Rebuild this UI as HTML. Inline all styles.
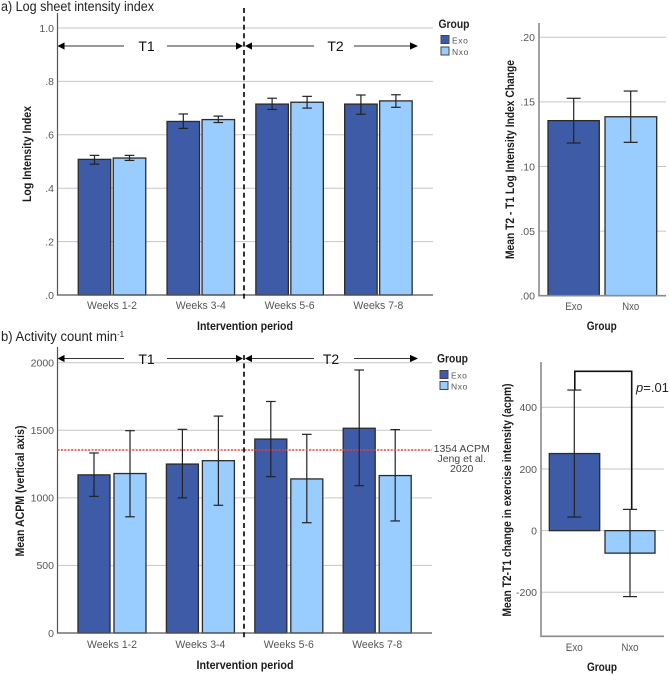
<!DOCTYPE html>
<html lang="en">
<head>
<meta charset="utf-8">
<title>Log sheet intensity index and activity count by group</title>
<style>
html,body{margin:0;padding:0;background:#fff;}
svg{display:block;font-family:"Liberation Sans",sans-serif;}
</style>
</head>
<body>
<svg id="figure" width="669" height="675" viewBox="0 0 669 675" xmlns="http://www.w3.org/2000/svg"></svg>
<script>
var periods = ['Weeks 1-2', 'Weeks 3-4', 'Weeks 5-6', 'Weeks 7-8'];
var groups = ['Exo', 'Nxo'];

var logTicks = [0, 0.2, 0.4, 0.6, 0.8, 1.0];
var logTickLabels = ['.0', '.2', '.4', '.6', '.8', '1.0'];
var logExo = [0.508, 0.650, 0.715, 0.715];
var logNxo = [0.513, 0.657, 0.722, 0.727];
var logExoLow = [0.490, 0.624, 0.695, 0.677];
var logExoHigh = [0.523, 0.678, 0.737, 0.749];
var logNxoLow = [0.504, 0.646, 0.700, 0.703];
var logNxoHigh = [0.523, 0.670, 0.744, 0.750];

var logChangeTicks = [0, 0.05, 0.10, 0.15, 0.20];
var logChangeTickLabels = ['.00', '.05', '.10', '.15', '.20'];
var logChangeMeans = [0.1355, 0.1385];
var logChangeLow = [0.1182, 0.1187];
var logChangeHigh = [0.1528, 0.1584];

var acpmTicks = [0, 500, 1000, 1500, 2000];
var acpmTickLabels = ['0', '500', '1000', '1500', '2000'];
var acpmExo = [1170, 1250, 1435, 1515];
var acpmNxo = [1180, 1275, 1140, 1165];
var acpmExoLow = [1011, 1000, 1157, 1090];
var acpmExoHigh = [1332, 1507, 1713, 1946];
var acpmNxoLow = [860, 945, 816, 829];
var acpmNxoHigh = [1497, 1605, 1470, 1505];
var referenceAcpm = [1354];

var acpmChangeTicks = [-200, 0, 200, 400];
var acpmChangeTickLabels = ['-200', '0', '200', '400'];
var acpmChangeMeans = [250, -73];
var acpmChangeLow = [44, -214];
var acpmChangeHigh = [456, 69];

var NS = 'http://www.w3.org/2000/svg';
var root = document.getElementById('figure');
var DARK = '#3e5ba8';
var LIGHT = '#99ccff';

function shape(parent, tag, props, text) {
  var el = document.createElementNS(NS, tag);
  for (var k in props) { el.setAttribute(k, props[k]); }
  if (text !== undefined) { el.textContent = text; }
  parent.appendChild(el);
  return el;
}
function linear(domain0, px0, domain1, px1) {
  return function (v) { return px0 + (v - domain0) * (px1 - px0) / (domain1 - domain0); };
}
function layer(parent, name) {
  var g = shape(parent, 'g', {});
  
  
  return g;
}
function drawGrid(parent, ticks, labels, y, x0, x1, labelRight, sw) {
  var grid = layer(parent, 'gridlines');
  var tickText = layer(parent, 'y-axis-ticks');
  ticks.forEach(function (t, i) {
    var line = shape(grid, 'line', {x1: x0, x2: x1, y1: y(t), y2: y(t), stroke: '#c6c6c6', 'stroke-width': sw});
    
    
    var label = shape(tickText, 'text', {x: labelRight, y: y(t) + 3.8, 'text-anchor': 'end', 'font-size': 10.5, fill: '#555'}, labels[i]);
    
    
  });
}
function drawBar(parent, x0, x1, y0, yv, fill, name) {
  var r = shape(parent, 'rect', {x: x0, y: Math.min(y0, yv), width: x1 - x0, height: Math.abs(y0 - yv), fill: fill, stroke: '#2b2b2b', 'stroke-width': 1.3});
  
  
}
function drawError(parent, cx, yLow, yHigh, half, name, sw) {
  var g = layer(parent, name);
  shape(g, 'line', {x1: cx, x2: cx, y1: yLow, y2: yHigh, stroke: '#222', 'stroke-width': sw});
  shape(g, 'line', {x1: cx - half, x2: cx + half, y1: yLow, y2: yLow, stroke: '#222', 'stroke-width': sw});
  shape(g, 'line', {x1: cx - half, x2: cx + half, y1: yHigh, y2: yHigh, stroke: '#222', 'stroke-width': sw});
}
function drawAxes(parent, xAxis, yTop, yBottom, xRight, color, sw) {
  var a = shape(parent, 'path', {d: 'M' + xAxis + ' ' + yTop + 'V' + yBottom + 'H' + xRight, fill: 'none', stroke: color, 'stroke-width': sw});
  
  
}
function drawLegend(parent, titleX, titleY, swX, sw1Y, sw2Y) {
  var g = layer(parent, 'legend');
  var t = shape(g, 'text', {x: titleX, y: titleY, 'font-size': 11.5, 'font-weight': 'bold', fill: '#222', textLength: 31, lengthAdjust: 'spacingAndGlyphs'}, 'Group');
  
  
  [sw1Y, sw2Y].forEach(function (sy, i) {
    var s = shape(g, 'rect', {x: swX, y: sy, width: 8, height: 8, fill: i ? LIGHT : DARK, stroke: '#444', 'stroke-width': 1});
    
    
    var l = shape(g, 'text', {x: swX + 11, y: sy + 8, 'font-size': 8.5, 'letter-spacing': 0.6, fill: '#555'}, groups[i]);
    
    
  });
}
function drawPhaseArrow(parent, y, textY, t2Center) {
  var g = layer(parent, 'phase-arrows');
  var c = '#333';
  shape(g, 'line', {x1: 64, x2: 124, y1: y, y2: y, stroke: c, 'stroke-width': 1});
  shape(g, 'line', {x1: 167, x2: 237, y1: y, y2: y, stroke: c, 'stroke-width': 1});
  shape(g, 'line', {x1: 251, x2: 314, y1: y, y2: y, stroke: c, 'stroke-width': 1});
  shape(g, 'line', {x1: 354, x2: 411, y1: y, y2: y, stroke: c, 'stroke-width': 1});
  [[57.5, 64.5], [243, 236], [245, 252], [418, 410]].forEach(function (p) {
    shape(g, 'path', {d: 'M' + p[0] + ' ' + y + 'L' + p[1] + ' ' + (y - 3.6) + 'V' + (y + 3.6) + 'Z', fill: '#000'});
  });
  var t1 = shape(g, 'text', {x: 146.5, y: textY, 'text-anchor': 'middle', 'font-size': 14, fill: '#111'}, 'T1');
  
  
  var t2 = shape(g, 'text', {x: t2Center, y: textY, 'text-anchor': 'middle', 'font-size': 14, fill: '#111'}, 'T2');
  
  
}
function axisTitle(parent, text, x, y, len, name, rotate) {
  var props = {x: x, y: y, 'text-anchor': 'middle', 'font-size': 11.5, 'font-weight': 'bold', fill: '#1c1c1c', textLength: len, lengthAdjust: 'spacingAndGlyphs'};
  if (rotate) { props.transform = 'rotate(-90 ' + x + ' ' + y + ')'; }
  var t = shape(parent, 'text', props, text);
  
  
}
function xLabel(parent, text, x, y) {
  var t = shape(parent, 'text', {x: x, y: y, 'text-anchor': 'middle', 'font-size': 11, fill: '#555', textLength: text.length > 3 ? 50 : 17, lengthAdjust: 'spacingAndGlyphs'}, text);
  
  
}
function groupedChart(name, cfg) {
  var g = layer(root, name);
  var y = linear(0, cfg.y0, cfg.topValue, cfg.yTop);
  drawGrid(g, cfg.ticks, cfg.labels, y, cfg.axisX, cfg.right, 54, 1);
  var center = function (i) { return cfg.first + i * cfg.step; };
  var marks = layer(g, 'bars');
  var errs = layer(g, 'error-bars');
  periods.forEach(function (p, i) {
    var cE = center(i) - cfg.offset;
    var cN = center(i) + cfg.offset;
    drawBar(marks, cE - cfg.barW / 2, cE + cfg.barW / 2, y(0), y(cfg.exo[i]), DARK, 'bar-exo');
    drawBar(marks, cN - cfg.barW / 2, cN + cfg.barW / 2, y(0), y(cfg.nxo[i]), LIGHT, 'bar-nxo');
    drawError(errs, cE, y(cfg.exoLow[i]), y(cfg.exoHigh[i]), 4.8, 'error-bar-exo', 1.2);
    drawError(errs, cN, y(cfg.nxoLow[i]), y(cfg.nxoHigh[i]), 4.8, 'error-bar-nxo', 1.2);
    xLabel(g, p, center(i), cfg.labelY);
  });
  drawAxes(g, cfg.axisX, cfg.axisTop, y(0), cfg.right, '#555', 1.2);
  return y;
}
function changeChart(name, cfg) {
  var g = layer(root, name);
  var y = linear(cfg.ticks[0], cfg.yFirst, cfg.ticks[cfg.ticks.length - 1], cfg.yLast);
  drawGrid(g, cfg.ticks, cfg.labels, y, cfg.axisX, cfg.right, cfg.labelRight, 1);
  var marks = layer(g, 'bars');
  var errs = layer(g, 'error-bars');
  groups.forEach(function (grp, i) {
    drawBar(marks, cfg.bars[i][0], cfg.bars[i][1], y(0), y(cfg.means[i]), i ? LIGHT : DARK, 'bar-' + grp.toLowerCase());
    drawError(errs, cfg.centers[i], y(cfg.low[i]), y(cfg.high[i]), 7, 'error-bar-' + grp.toLowerCase(), 1.2);
    xLabel(g, grp, cfg.centers[i], cfg.labelY);
  });
  drawAxes(g, cfg.axisX, cfg.axisTop, cfg.axisBottom, cfg.right, '#8a8a8a', 1.6);
  return {y: y, g: g};
}
function dashed(parent, y1, y2, name) {
  var l = shape(parent, 'line', {x1: 244, x2: 244, y1: y1, y2: y2, stroke: '#000', 'stroke-width': 1.6, 'stroke-dasharray': '5 3.4'});
  
  
}

/* panel a */
var title1 = shape(root, 'text', {x: 1, y: 11, 'font-size': 13.5, fill: '#222', textLength: 153, lengthAdjust: 'spacingAndGlyphs'}, 'a) Log sheet intensity index');



groupedChart('log-intensity-chart', {
  ticks: logTicks, labels: logTickLabels, exo: logExo, nxo: logNxo,
  exoLow: logExoLow, exoHigh: logExoHigh, nxoLow: logNxoLow, nxoHigh: logNxoHigh,
  y0: 295, yTop: 28, topValue: 1, axisX: 57.5, axisTop: 13, right: 433,
  first: 112, step: 88.8, offset: 17.5, barW: 32.5, labelY: 309
});
axisTitle(root, 'Log Intensity Index', 31, 154, 96, 'y-axis-title', true);
axisTitle(root, 'Intervention period', 245, 330, 96, 'x-axis-title', false);
drawPhaseArrow(root, 46, 51, 335.5);
drawLegend(root, 438.5, 28, 441, 35.5, 47);
dashed(root, 8, 302, 'phase-divider-a');

var logChart = changeChart('log-change-chart', {
  ticks: logChangeTicks, labels: logChangeTickLabels, means: logChangeMeans,
  low: logChangeLow, high: logChangeHigh,
  yFirst: 295.7, yLast: 37.3, axisX: 539, axisTop: 23, axisBottom: 295.7, right: 666, labelRight: 535,
  bars: [[548, 599.3], [605, 656.7]], centers: [573.7, 630.7], labelY: 310
});
axisTitle(root, 'Mean T2 - T1 Log Intensity Index Change', 514, 159.5, 199, 'y-axis-title', true);
axisTitle(root, 'Group', 601.7, 330, 30, 'x-axis-title', false);

/* panel b */
var title2 = shape(root, 'text', {x: 1, y: 341, 'font-size': 13.5, fill: '#222'});


shape(title2, 'tspan', {textLength: 116, lengthAdjust: 'spacingAndGlyphs'}, 'b) Activity count min');
shape(title2, 'tspan', {dy: -4, 'font-size': 8}, '-1');

var acpmY = groupedChart('acpm-chart', {
  ticks: acpmTicks, labels: acpmTickLabels, exo: acpmExo, nxo: acpmNxo,
  exoLow: acpmExoLow, exoHigh: acpmExoHigh, nxoLow: acpmNxoLow, nxoHigh: acpmNxoHigh,
  y0: 633, yTop: 362.7, topValue: 2000, axisX: 57.5, axisTop: 347, right: 432,
  first: 112, step: 88.4, offset: 18, barW: 32, labelY: 648
});
var ref = shape(root, 'line', {x1: 57.5, x2: 432, y1: acpmY(referenceAcpm[0]), y2: acpmY(referenceAcpm[0]), stroke: '#f23a3a', 'stroke-width': 1.5, 'stroke-dasharray': '2 1.4'});


var refLabel = layer(root, 'reference-label');
shape(refLabel, 'text', {x: 461.7, y: 452, 'text-anchor': 'middle', 'font-size': 10.5, fill: '#444'}, referenceAcpm[0] + ' ACPM');
shape(refLabel, 'text', {x: 461.7, y: 462, 'text-anchor': 'middle', 'font-size': 10.5, fill: '#444'}, 'Jeng et al.');
shape(refLabel, 'text', {x: 461.7, y: 472, 'text-anchor': 'middle', 'font-size': 10.5, fill: '#444'}, '2020');

axisTitle(root, 'Mean ACPM (vertical axis)', 24, 491, 131, 'y-axis-title', true);
axisTitle(root, 'Intervention period', 245, 669, 97, 'x-axis-title', false);
drawPhaseArrow(root, 358.5, 364, 331);
drawLegend(root, 437, 362.5, 440, 370.5, 381.5);
dashed(root, 355, 638, 'phase-divider-b');

var acpmChart = changeChart('acpm-change-chart', {
  ticks: acpmChangeTicks, labels: acpmChangeTickLabels, means: acpmChangeMeans,
  low: acpmChangeLow, high: acpmChangeHigh,
  yFirst: 592.3, yLast: 407.3, axisX: 541, axisTop: 362, axisBottom: 636.3, right: 664, labelRight: 537,
  bars: [[549.3, 599.7], [605, 655]], centers: [574.3, 630], labelY: 651
});
var bracket = shape(root, 'path', {d: 'M574.8 ' + acpmChart.y(acpmChangeHigh[0]) + 'V371.3H631.7V' + acpmChart.y(acpmChangeHigh[1]), fill: 'none', stroke: '#111', 'stroke-width': 1.6});


var pText = shape(root, 'text', {x: 636, y: 392, 'font-size': 13, fill: '#222'});


shape(pText, 'tspan', {'font-style': 'italic'}, 'p');
shape(pText, 'tspan', {}, '=.01');

axisTitle(root, 'Mean T2-T1 change in exercise intensity (acpm)', 511, 500, 233, 'y-axis-title', true);
axisTitle(root, 'Group', 602, 671, 30, 'x-axis-title', false);
</script>
</body>
</html>
